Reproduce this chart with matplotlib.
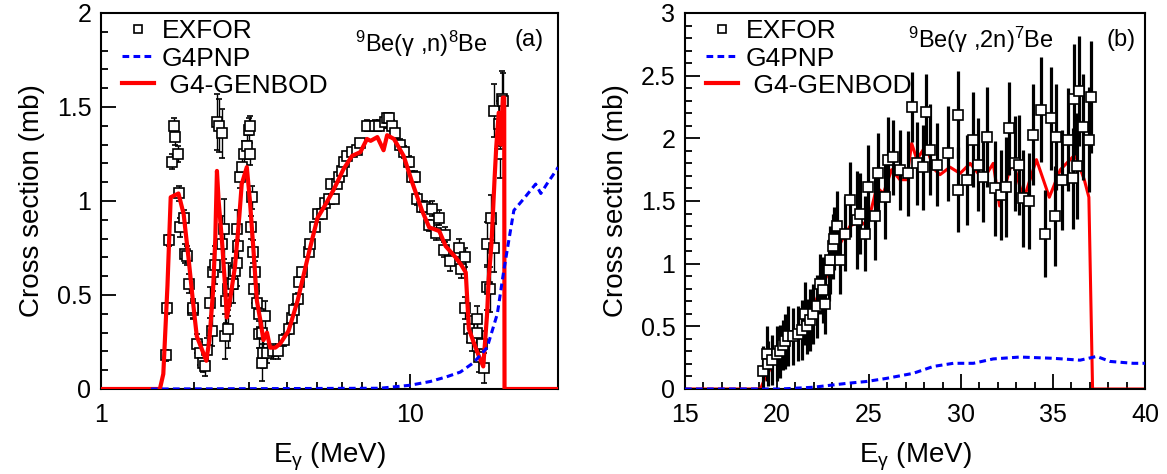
import matplotlib
matplotlib.use("Agg")
import matplotlib.pyplot as plt
from matplotlib.lines import Line2D
from matplotlib.ticker import MultipleLocator, LogLocator, FuncFormatter, NullFormatter

plt.rcParams['font.family'] = ['Liberation Sans', 'DejaVu Sans']
plt.rcParams['mathtext.fontset'] = 'custom'
plt.rcParams['mathtext.rm'] = 'Liberation Sans'
plt.rcParams['mathtext.it'] = 'Liberation Sans:italic'

# ---- (a) 9Be(g,n)8Be ----
exfor_a_E = [1.62, 1.64, 1.66, 1.69, 1.72, 1.74, 1.77, 1.79, 1.80, 1.85,
             1.87, 1.90, 1.93, 1.98, 1.99, 2.04, 2.09, 2.14, 2.17, 2.20,
             2.25, 2.28, 2.31, 2.34, 2.37, 2.40, 2.46, 2.46, 2.49, 2.52,
             2.54, 2.58, 2.58, 2.68, 2.71, 2.75, 2.75, 2.78, 2.82, 2.85,
             2.89, 2.96, 3.00, 3.02, 3.03, 3.05, 3.07, 3.09, 3.13, 3.15,
             3.19, 3.23, 3.25, 3.31, 3.31, 3.35, 3.39, 3.44, 3.61, 3.74,
             3.89, 4.04, 4.14, 4.22, 4.32, 4.38, 4.46, 4.69, 4.75, 4.93,
             5.01, 5.18, 5.31, 5.44, 5.54, 5.65, 5.79, 5.86, 6.01, 6.08,
             6.24, 6.48, 6.72, 6.89, 7.24, 7.70, 7.89, 8.30, 8.41, 8.56,
             8.73, 8.94, 9.28, 9.51, 9.87, 10.13, 10.38, 10.52, 10.91, 11.19,
             11.46, 11.75, 12.06, 12.36, 12.80, 12.98, 13.47, 14.35, 14.53, 15.07,
             15.07, 15.45, 15.85, 16.44, 16.44, 16.63, 17.06, 17.24, 17.70, 17.70,
             18.10, 18.28, 18.60, 18.60, 19.30, 19.50, 19.75, 19.90]
exfor_a_xs = [0.18, 0.43, 0.79, 1.21, 1.40, 1.34, 1.25, 1.04, 0.86, 0.91,
              0.72, 0.71, 0.56, 0.42, 0.43, 0.24, 0.19, 0.14, 0.12, 0.21,
              0.46, 0.31, 0.62, 0.66, 1.42, 1.40, 1.36, 0.77, 0.85, 0.28,
              0.47, 0.53, 0.32, 0.56, 0.63, 0.67, 0.85, 0.76, 1.13, 1.18,
              1.25, 1.29, 1.38, 1.40, 1.25, 0.86, 1.02, 0.73, 0.53, 0.62,
              0.46, 0.29, 0.40, 0.30, 0.14, 0.19, 0.39, 0.19, 0.20, 0.20,
              0.26, 0.32, 0.38, 0.42, 0.48, 0.57, 0.62, 0.73, 0.77, 0.86,
              0.93, 0.93, 0.99, 1.01, 1.09, 1.01, 1.09, 1.13, 1.16, 1.21,
              1.24, 1.26, 1.27, 1.31, 1.40, 1.40, 1.40, 1.42, 1.44, 1.44,
              1.40, 1.36, 1.30, 1.26, 1.21, 1.13, 1.13, 1.01, 0.97, 0.97,
              0.87, 0.96, 0.83, 0.91, 0.74, 0.82, 0.68, 0.75, 0.64, 0.70,
              0.43, 0.32, 0.27, 0.37, 0.30, 0.17, 0.24, 0.11, 0.54, 0.77,
              0.53, 0.91, 0.75, 1.48, 1.41, 1.25, 1.54, 1.53]
exfor_a_err = [0.03, 0.03, 0.03, 0.04, 0.04, 0.04, 0.04, 0.04, 0.05, 0.04,
               0.05, 0.05, 0.05, 0.05, 0.05, 0.05, 0.06, 0.05, 0.05, 0.06,
               0.08, 0.08, 0.10, 0.10, 0.15, 0.14, 0.13, 0.15, 0.16, 0.12,
               0.12, 0.14, 0.10, 0.10, 0.10, 0.12, 0.10, 0.10, 0.06, 0.06,
               0.07, 0.06, 0.06, 0.05, 0.06, 0.06, 0.06, 0.06, 0.07, 0.06,
               0.06, 0.07, 0.07, 0.08, 0.10, 0.08, 0.08, 0.05, 0.04, 0.04,
               0.03, 0.03, 0.03, 0.03, 0.03, 0.02, 0.02, 0.02, 0.02, 0.02,
               0.02, 0.02, 0.02, 0.02, 0.02, 0.02, 0.02, 0.02, 0.02, 0.02,
               0.02, 0.02, 0.02, 0.02, 0.03, 0.03, 0.03, 0.03, 0.03, 0.03,
               0.03, 0.03, 0.03, 0.03, 0.03, 0.03, 0.03, 0.03, 0.03, 0.03,
               0.03, 0.04, 0.04, 0.04, 0.04, 0.04, 0.05, 0.05, 0.05, 0.05,
               0.06, 0.07, 0.07, 0.07, 0.07, 0.08, 0.07, 0.08, 0.12, 0.12,
               0.12, 0.12, 0.13, 0.14, 0.12, 0.13, 0.15, 0.15]

genbod_a_E = [1.0, 1.55, 1.59, 1.64, 1.68, 1.78, 1.85, 1.92, 1.99, 2.04,
              2.12, 2.19, 2.24, 2.30, 2.34, 2.37, 2.40, 2.46, 2.52, 2.55,
              2.61, 2.71, 2.80, 2.85, 2.96, 3.03, 3.11, 3.19, 3.27, 3.35,
              3.44, 3.52, 3.66, 3.79, 4.04, 4.32, 4.69, 5.01, 5.31, 5.65,
              6.08, 6.48, 6.89, 7.24, 7.44, 7.82, 8.19, 8.41, 8.85, 9.51,
              10.13, 10.9, 11.5, 12.4, 13.0, 14.0, 14.6, 15.1, 15.45, 16.0,
              16.6, 17.2, 17.7, 17.9, 18.3, 18.7, 18.95, 19.3, 19.6, 19.9,
              20.1, 20.15, 30.0]
genbod_a_xs = [0.0, 0.0, 0.08, 0.55, 1.02, 1.04, 0.93, 0.69, 0.44, 0.28,
               0.21, 0.15, 0.26, 0.51, 0.79, 1.16, 1.00, 0.79, 0.54, 0.38,
               0.47, 0.65, 0.92, 1.09, 1.18, 1.00, 0.74, 0.47, 0.37, 0.26,
               0.30, 0.22, 0.22, 0.24, 0.31, 0.47, 0.72, 0.91, 0.98, 1.06,
               1.17, 1.24, 1.26, 1.33, 1.32, 1.34, 1.27, 1.35, 1.33, 1.24,
               1.10, 0.95, 0.86, 0.84, 0.76, 0.70, 0.66, 0.62, 0.32, 0.25,
               0.18, 0.12, 0.40, 0.58, 0.78, 1.11, 1.29, 1.47, 1.30, 1.55,
               1.55, 0.0, 0.0]

g4pnp_a_E = [1.45, 7.98, 9.98, 11.6, 13.1, 14.5, 16.0, 17.7, 19.1, 20.0,
             20.8, 21.6, 23.2, 25.4, 26.4, 27.6, 29.8, 30.0]
g4pnp_a_xs = [0.0, 0.004, 0.02, 0.04, 0.065, 0.09, 0.14, 0.22, 0.40, 0.62,
              0.79, 0.95, 1.01, 1.09, 1.04, 1.09, 1.17, 1.18]

# ---- (b) 9Be(g,2n)7Be ----
exfor_b_E = [19.22, 19.44, 19.50, 19.71, 19.98, 20.16, 20.30, 20.45, 20.61, 20.89,
             21.16, 21.35, 21.50, 21.61, 21.79, 21.97, 22.16, 22.34, 22.52, 22.61,
             22.80, 22.88, 23.06, 23.10, 23.24, 23.42, 23.70, 23.97, 24.33, 24.51,
             24.78, 24.96, 25.33, 25.51, 25.87, 26.05, 26.32, 26.68, 27.14, 27.32,
             27.59, 27.95, 28.08, 28.32, 28.68, 29.31, 29.85, 29.85, 30.31, 30.67,
             30.94, 31.18, 31.43, 31.85, 32.16, 32.45, 32.63, 32.93, 33.17, 33.39,
             33.70, 33.90, 34.33, 34.57, 34.88, 35.11, 35.16, 35.47, 35.83, 36.10,
             36.16, 36.32, 36.41, 36.65, 36.97, 37.07]
exfor_b_xs = [0.14, 0.28, 0.20, 0.23, 0.28, 0.30, 0.35, 0.38, 0.42, 0.42,
              0.44, 0.47, 0.60, 0.50, 0.55, 0.60, 0.66, 0.84, 0.79, 0.68,
              0.95, 1.03, 1.14, 1.20, 1.30, 1.03, 1.24, 1.51, 1.35, 1.40,
              1.24, 1.61, 1.38, 1.72, 1.53, 1.83, 1.85, 1.75, 1.72, 2.25,
              1.80, 1.77, 2.21, 1.91, 1.79, 1.88, 2.19, 1.59, 1.67, 1.99,
              1.79, 1.69, 2.01, 1.60, 1.55, 1.61, 2.08, 1.80, 1.79, 1.52,
              1.50, 2.03, 2.23, 1.24, 2.16, 1.38, 2.01, 1.67, 1.99, 1.68,
              2.31, 1.78, 2.38, 2.09, 1.99, 2.33]
exfor_b_err = [0.20, 0.22, 0.18, 0.20, 0.22, 0.21, 0.20, 0.22, 0.24, 0.23,
               0.22, 0.24, 0.25, 0.22, 0.25, 0.24, 0.25, 0.24, 0.26, 0.24,
               0.25, 0.27, 0.26, 0.25, 0.28, 0.27, 0.30, 0.30, 0.39, 0.32,
               0.30, 0.34, 0.35, 0.32, 0.33, 0.34, 0.30, 0.32, 0.34, 0.28,
               0.33, 0.34, 0.30, 0.36, 0.33, 0.38, 0.35, 0.34, 0.36, 0.38,
               0.37, 0.36, 0.40, 0.38, 0.36, 0.40, 0.37, 0.38, 0.40, 0.39,
               0.38, 0.40, 0.42, 0.35, 0.41, 0.40, 0.42, 0.40, 0.41, 0.40,
               0.44, 0.42, 0.44, 0.42, 0.42, 0.45]

genbod_b_E = [15.0, 19.1, 19.3, 20.0, 20.75, 21.46, 22.0, 22.34, 22.7, 23.24,
              23.97, 24.5, 24.9, 25.42, 25.78, 26.23, 26.68, 27.05, 27.32, 27.6,
              27.95, 28.2, 28.5, 28.86, 29.4, 29.95, 30.5, 31.2, 31.75, 32.1,
              32.8, 33.4, 34.1, 34.8, 35.4, 36.2, 36.7, 36.95, 37.15, 40.0]
genbod_b_xs = [0.0, 0.0, 0.07, 0.26, 0.42, 0.52, 0.66, 0.79, 0.90, 1.11,
               1.30, 1.34, 1.30, 1.61, 1.56, 1.75, 1.67, 1.67, 1.96, 1.83,
               1.91, 1.90, 1.76, 1.71, 1.77, 1.72, 1.80, 1.67, 1.80, 1.46,
               1.83, 1.51, 1.83, 1.53, 1.75, 1.87, 1.67, 1.53, 0.0, 0.0]

g4pnp_b_E = [15.0, 20.2, 21.97, 23.79, 24.87, 25.96, 27.4, 28.5, 29.58, 30.67,
             31.75, 33.2, 35.0, 36.47, 37.37, 38.1, 39.36, 40.0]
g4pnp_b_xs = [0.0, 0.0, 0.014, 0.045, 0.06, 0.085, 0.125, 0.18, 0.205, 0.205,
              0.24, 0.255, 0.245, 0.23, 0.26, 0.22, 0.205, 0.205]

fig = plt.figure(figsize=(11.67, 4.74), dpi=100)
ax_a = fig.add_axes([101 / 1167, 1 - 389 / 474, 457 / 1167, 376 / 474])
ax_b = fig.add_axes([685 / 1167, 1 - 389 / 474, 460 / 1167, 376 / 474])

fmt = FuncFormatter(lambda v, p: '%g' % v)


def style_axis(ax):
    for s in ax.spines.values():
        s.set_linewidth(1.5)
    ax.tick_params(which='both', direction='in', top=False, right=False,
                   width=1.3, labelsize=18)
    ax.tick_params(which='major', length=10.5, pad=7)
    ax.tick_params(which='minor', length=5)
    ax.tick_params(axis='x', which='major', pad=10)
    ax.yaxis.set_major_formatter(fmt)
    ax.set_ylabel('Cross section (mb)', fontsize=20, labelpad=8)
    ax.set_xlabel(r'E$_\mathregular{γ}$ (MeV)', fontsize=20, labelpad=10)


# panel (a)
ax_a.set_xscale('log')
ax_a.set_xlim(1, 30)
ax_a.set_ylim(0, 2)
ax_a.xaxis.set_major_locator(LogLocator(base=10, subs=[1.0]))
ax_a.xaxis.set_minor_locator(LogLocator(base=10, subs=range(2, 10)))
ax_a.xaxis.set_major_formatter(fmt)
ax_a.xaxis.set_minor_formatter(NullFormatter())
ax_a.yaxis.set_major_locator(MultipleLocator(0.5))
ax_a.yaxis.set_minor_locator(MultipleLocator(0.1))
style_axis(ax_a)

ax_a.errorbar(exfor_a_E, exfor_a_xs, yerr=exfor_a_err, fmt='s', ms=7.8,
              mfc='white', mec='black', mew=1.2, ecolor='black', elinewidth=1.0,
              capsize=2, capthick=1.0, zorder=2)
ax_a.plot(genbod_a_E, genbod_a_xs, color='red', lw=3.0, zorder=3)
ax_a.plot(g4pnp_a_E, g4pnp_a_xs, color='blue', lw=2.2, ls=(0, (2.2, 1.4)), zorder=4)

ax_a.text(0.555, 0.918, r'$^\mathregular{9}$Be(γ ,n)$^\mathregular{8}$Be',
          transform=ax_a.transAxes, fontsize=17, va='center', ha='left')
ax_a.text(0.904, 0.928, '(a)', transform=ax_a.transAxes, fontsize=17,
          va='center', ha='left')

# panel (b)
ax_b.set_xlim(15, 40)
ax_b.set_ylim(0, 3)
ax_b.xaxis.set_major_locator(MultipleLocator(5))
ax_b.xaxis.set_minor_locator(MultipleLocator(1))
ax_b.xaxis.set_major_formatter(fmt)
ax_b.yaxis.set_major_locator(MultipleLocator(0.5))
ax_b.yaxis.set_minor_locator(MultipleLocator(0.1))
style_axis(ax_b)

ax_b.plot(genbod_b_E, genbod_b_xs, color='red', lw=2.2, zorder=2)
ax_b.errorbar(exfor_b_E, exfor_b_xs, yerr=exfor_b_err, fmt='s', ms=7.5,
              mfc='white', mec='black', mew=1.2, ecolor='black', elinewidth=2.3,
              capsize=0, zorder=3)
ax_b.plot(g4pnp_b_E, g4pnp_b_xs, color='blue', lw=2.2, ls=(0, (2.2, 1.4)), zorder=4)

ax_b.text(0.485, 0.928, r'$^\mathregular{9}$Be(γ ,2n)$^\mathregular{7}$Be',
          transform=ax_b.transAxes, fontsize=17, va='center', ha='left')
ax_b.text(0.917, 0.928, '(b)', transform=ax_b.transAxes, fontsize=17,
          va='center', ha='left')

# legends
for ax in (ax_a, ax_b):
    handles = [
        Line2D([], [], marker='s', ls='none', ms=6, mfc='white', mec='black', mew=1.2),
        Line2D([], [], color='blue', lw=2.2, ls=(0, (2.2, 1.4))),
        Line2D([], [], color='red', lw=3.0),
    ]
    ax.legend(handles, ['EXFOR', 'G4PNP', ' G4-GENBOD'], loc='upper left',
              bbox_to_anchor=(0.04, 0.99), frameon=False, fontsize=19,
              handlelength=1.2, handletextpad=0.3, labelspacing=0.12,
              borderaxespad=0, borderpad=0.1)

fig.savefig('out.png', dpi=100)
